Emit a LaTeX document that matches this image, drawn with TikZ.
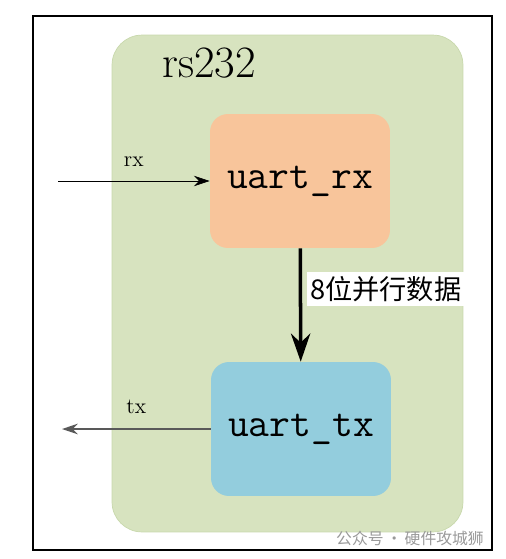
\documentclass[tikz,border=0pt]{standalone}
\usepackage{fontspec}
\newfontfamily\cjk{Noto Sans CJK SC}
\usetikzlibrary{arrows.meta}
\definecolor{rsgreen}{HTML}{D7E3BF}
\definecolor{rsedge}{HTML}{C8D8AC}
\definecolor{rxorange}{HTML}{F8C59B}
\definecolor{txblue}{HTML}{93CDDD}
\tikzset{
  uartbox/.style={rounded corners=0.36cm, minimum width=3.6cm, minimum height=2.68cm,
    font=\ttfamily\fontsize{23}{26}\selectfont},
  sig/.style={font=\fontsize{12.5}{14}\selectfont}
}
\begin{document}
\begin{tikzpicture}[x=0.02cm, y=-0.02cm, >={Stealth[length=9pt,width=6pt]}]
        \useasboundingbox (0,0) rectangle (505,559);
        \draw[line width=1.6pt] (33,16) rectangle (492,550);
        \node[fill=rsgreen,draw=rsedge,rounded corners=0.6cm,minimum width=7.02cm,minimum height=9.94cm] (rs232) at (287.5,283.5) {};
        \node[font=\fontsize{25.5}{28}\selectfont] (title) at (209,63) {rs232};
        \node[uartbox,fill=rxorange] (rx) at (300,181) {uart\_rx};
        \node[uartbox,fill=txblue] (tx) at (301,429) {uart\_tx};
        \coordinate (rxin) at (58,181);
        \coordinate (txout) at (62,429);
        \draw[->] (rxin)--node[sig,above=5pt]{rx}(rx);
        \draw[->,black!65,line width=0.9pt] (tx)--node[sig,above=5pt,black]{tx}(txout);
        \draw[-{Stealth[length=16pt,width=11pt]},line width=2pt] (rx)--node[pos=0.36,right=3pt,fill=white,inner xsep=1.5pt,inner ysep=2.5pt,font=\cjk\fontsize{15.5}{18}\selectfont]{8位并行数据}(tx);
        \node[anchor=east,text=black!40,font=\cjk\fontsize{9}{11}\selectfont] (wm) at (490,538) {公众号\,·\,硬件攻城狮};
    \end{tikzpicture}
\end{document}
